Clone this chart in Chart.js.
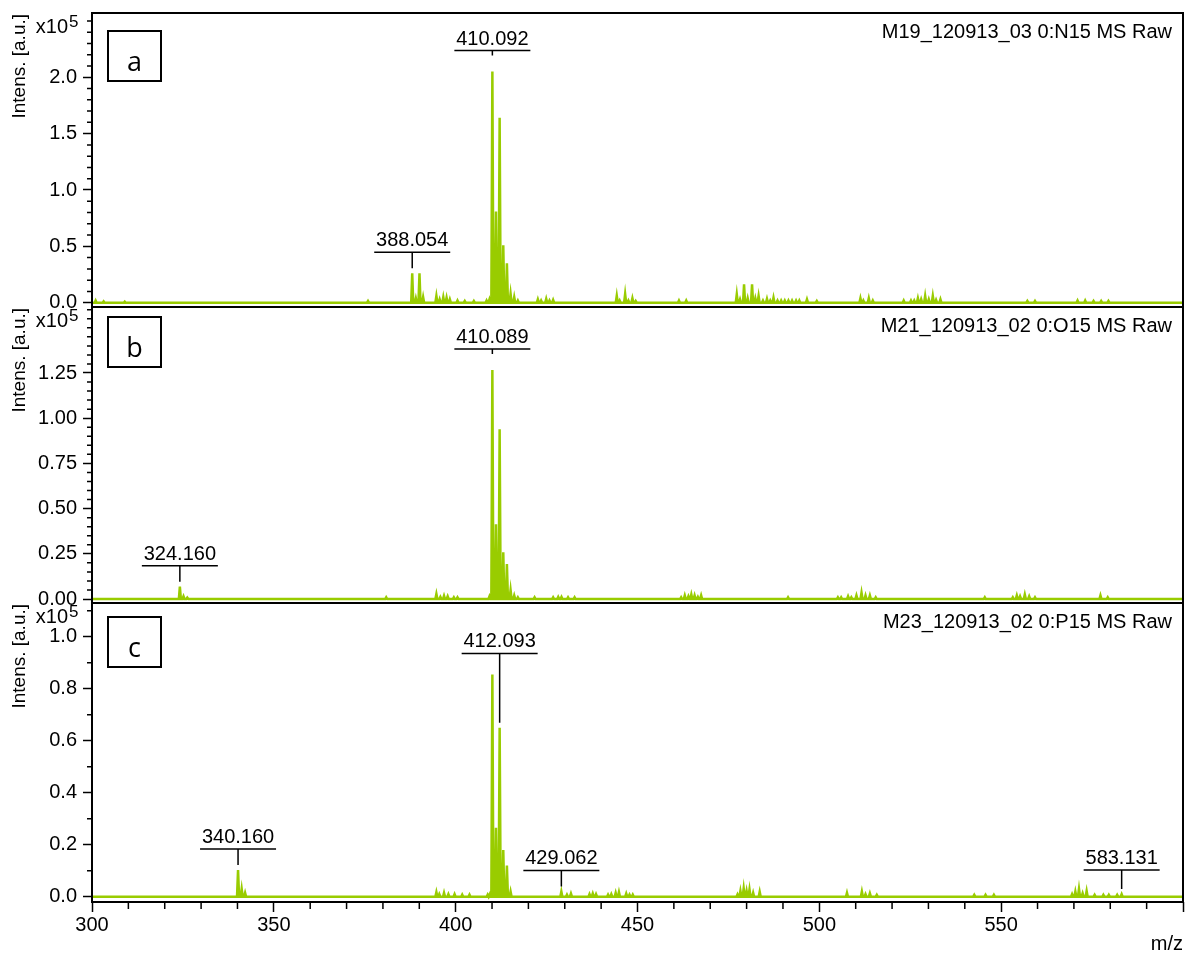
<!DOCTYPE html>
<html>
<head>
<meta charset="utf-8">
<title>MS spectra</title>
<script src="https://cdn.jsdelivr.net/npm/chart.js@4.4.1/dist/chart.umd.min.js"></script>
<style>
  html, body { margin: 0; padding: 0; background: #fff; }
  #wrap { position: relative; width: 1185px; height: 953px; }
  #wrap canvas { position: absolute; left: 0; top: 0; }
</style>
</head>
<body>
<div id="wrap">
  <canvas id="specA" width="1185" height="953"></canvas>
  <canvas id="specB" width="1185" height="953"></canvas>
  <canvas id="specC" width="1185" height="953"></canvas>
</div>
<script>
// peak lists: m/z and intensity in units of 10^5
var mzA = [301.0, 303.2, 309.0, 375.9, 388.054, 389.05, 390.05, 391.05, 394.7, 395.6, 396.6, 397.5, 398.4,
  400.5, 402.5, 405.0, 408.5, 409.3, 410.092, 411.09, 412.09, 413.09, 414.09, 415.1, 416.1, 417.1,
  422.6, 423.5, 424.9, 425.8, 426.8, 444.3, 445.1, 446.6, 447.5, 448.6, 449.5, 461.4, 463.4,
  477.3, 478.2, 479.3, 480.3, 481.5, 482.4, 483.3, 484.5, 485.6, 486.5, 487.4, 488.5, 489.5, 490.5,
  491.5, 492.5, 493.6, 494.5, 496.6, 499.3, 511.3, 512.1, 513.6, 514.7, 523.2, 525.2, 526.1, 527.1,
  528.0, 529.1, 530.1, 531.2, 532.1, 533.3, 557.2, 559.3, 571.0, 573.1, 575.4, 577.5, 579.5];
var intA = [0.02, 0.012, 0.01, 0.015, 0.262, 0.04, 0.26, 0.05, 0.06, 0.03, 0.05, 0.045, 0.03,
  0.02, 0.015, 0.015, 0.02, 0.03, 2.05, 0.81, 1.64, 0.51, 0.35, 0.08, 0.05, 0.02,
  0.03, 0.02, 0.035, 0.02, 0.025, 0.062, 0.02, 0.077, 0.02, 0.04, 0.015, 0.02, 0.02,
  0.075, 0.03, 0.163, 0.04, 0.163, 0.04, 0.06, 0.02, 0.035, 0.02, 0.045, 0.02, 0.02, 0.02,
  0.02, 0.02, 0.02, 0.02, 0.03, 0.015, 0.04, 0.02, 0.04, 0.02, 0.02, 0.02, 0.02, 0.04,
  0.03, 0.06, 0.03, 0.06, 0.025, 0.03, 0.015, 0.015, 0.02, 0.02, 0.015, 0.015, 0.015];

var mzB = [324.16, 325.16, 326.2, 380.9, 394.7, 395.8, 396.8, 397.8, 399.5, 400.5, 409.3,
  410.089, 411.09, 412.09, 413.09, 414.09, 415.1, 416.1, 417.1, 421.7, 426.8, 428.2, 429.1, 430.9, 432.7,
  462.0, 463.0, 464.0, 464.8, 465.7, 466.6, 467.5, 491.4, 505.1, 506.0, 507.9, 508.8, 510.2, 511.6,
  512.7, 513.9, 515.5, 545.5, 553.2, 554.3, 555.2, 556.5, 557.7, 559.3, 577.3, 579.3];
var intB = [0.068, 0.015, 0.008, 0.01, 0.028, 0.012, 0.018, 0.015, 0.01, 0.01, 0.015,
  1.267, 0.413, 0.939, 0.258, 0.194, 0.05, 0.02, 0.01, 0.01, 0.01, 0.012, 0.012, 0.01, 0.01,
  0.01, 0.02, 0.015, 0.025, 0.02, 0.012, 0.02, 0.01, 0.01, 0.01, 0.015, 0.01, 0.02, 0.035,
  0.02, 0.02, 0.01, 0.01, 0.01, 0.02, 0.015, 0.025, 0.015, 0.01, 0.02, 0.01];

var mzC = [340.16, 341.16, 342.1, 394.7, 395.5, 396.8, 398.0, 399.7, 401.8, 403.8, 408.8, 409.4,
  410.09, 411.09, 412.093, 413.09, 414.09, 415.1, 429.062, 430.6, 431.7, 436.8, 437.7, 438.6,
  441.9, 442.8, 444.0, 444.9, 446.9, 447.8, 448.7, 477.5, 478.3, 479.2, 480.0, 480.8, 481.8, 483.6,
  507.6, 511.7, 512.7, 513.9, 515.8, 542.6, 545.7, 548.0, 569.5, 570.4, 571.4, 572.4, 573.5,
  575.7, 578.1, 579.6, 581.9, 583.131];
var intC = [0.103, 0.03, 0.015, 0.018, 0.01, 0.015, 0.01, 0.01, 0.008, 0.008, 0.008, 0.01,
  0.855, 0.265, 0.65, 0.18, 0.12, 0.02, 0.02, 0.008, 0.012, 0.01, 0.012, 0.01,
  0.008, 0.01, 0.015, 0.018, 0.012, 0.008, 0.008, 0.009, 0.022, 0.032, 0.022, 0.028, 0.015, 0.019,
  0.015, 0.02, 0.01, 0.013, 0.007, 0.007, 0.007, 0.007, 0.01, 0.02, 0.03, 0.013, 0.022,
  0.007, 0.007, 0.007, 0.007, 0.01];

// labelled peaks
var peakLabelsA = [388.054, 410.092];
var peakLabelsB = [324.160, 410.089];
var peakLabelsC = [340.160, 412.093, 429.062, 583.131];

// axis ticks
var xTicks = [300, 350, 400, 450, 500, 550, 600];
var yTicksA = [0, 0.5, 1.0, 1.5, 2.0];
var yTicksB = [0, 0.25, 0.5, 0.75, 1.0, 1.25];
var yTicksC = [0, 0.2, 0.4, 0.6, 0.8, 1.0];

var titles = ['M19_120913_03 0:N15 MS Raw', 'M21_120913_02 0:O15 MS Raw', 'M23_120913_02 0:P15 MS Raw'];
var letters = ['a', 'b', 'c'];

var GREEN = '#99cc00';
var FONT = "'Liberation Sans', Arial, sans-serif";
var W = 1185, H = 953;

Chart.defaults.font.family = FONT;
Chart.defaults.font.size = 20;
Chart.defaults.color = '#000';

// stick spectrum: each peak is a narrow spike back down to the baseline
function profile(mz, inten) {
  var pts = [{ x: 300, y: 0 }];
  for (var i = 0; i < mz.length; i++) {
    pts.push({ x: mz[i] - 0.28, y: 0 }, { x: mz[i], y: inten[i] }, { x: mz[i] + 0.28, y: 0 });
  }
  pts.push({ x: 600, y: 0 });
  return pts;
}

function isMajor(v, ticks) {
  for (var i = 0; i < ticks.length; i++) if (Math.abs(v - ticks[i]) < 1e-6) return true;
  return false;
}

var decor = {
  id: 'decor',
  afterDraw: function (chart, args, o) {
    var ctx = chart.ctx, a = chart.chartArea, xs = chart.scales.x, ys = chart.scales.y;
    var k, v, p;
    ctx.save();
    ctx.strokeStyle = '#000';
    ctx.fillStyle = '#000';

    // minor ticks on the intensity axis
    ctx.lineWidth = 1.5;
    ctx.beginPath();
    for (k = 0; k * o.yMinor <= ys.max + 1e-9; k++) {
      v = k * o.yMinor;
      if (isMajor(v, o.yTicks)) continue;
      p = ys.getPixelForValue(v);
      ctx.moveTo(a.left - 5, p);
      ctx.lineTo(a.left, p);
    }
    if (o.xAxis) {
      for (v = 300; v <= 600; v += 10) {
        if (v % 50 === 0) continue;
        p = xs.getPixelForValue(v);
        ctx.moveTo(p, a.bottom);
        ctx.lineTo(p, a.bottom + 7);
      }
    }
    ctx.stroke();

    // plot frame
    ctx.lineWidth = 2;
    ctx.strokeRect(a.left, a.top, a.right - a.left, a.bottom - a.top);

    // x10^5 exponent
    ctx.font = '20px ' + FONT;
    ctx.textAlign = 'right';
    ctx.textBaseline = 'alphabetic';
    ctx.fillText('x10', a.left - 24, a.top + 20);
    ctx.font = '17px ' + FONT;
    ctx.textAlign = 'left';
    ctx.fillText('5', a.left - 23, a.top + 14);

    // axis title, rotated
    ctx.save();
    ctx.translate(20, a.top + 1);
    ctx.rotate(-Math.PI / 2);
    ctx.font = '19px ' + FONT;
    ctx.textAlign = 'right';
    ctx.textBaseline = 'middle';
    ctx.fillText('Intens. [a.u.]', 0, 0);
    ctx.restore();

    // panel letter box
    var by = a.top + o.boxOffset;
    ctx.lineWidth = 2;
    ctx.strokeRect(108, by, 53, 50);
    ctx.font = "27px 'Open Sans', sans-serif";
    ctx.textAlign = 'center';
    ctx.fillText(o.letter, 134.5, by + 39.5);

    // spectrum name
    ctx.font = '20px ' + FONT;
    ctx.textAlign = 'right';
    ctx.textBaseline = 'middle';
    ctx.fillText(o.title, a.right - 11, a.top + 19);

    // peak labels
    var panelMax = Math.max.apply(null, o.inten);
    ctx.textAlign = 'center';
    ctx.textBaseline = 'alphabetic';
    ctx.lineWidth = 1.5;
    o.labels.forEach(function (m) {
      var own = 0, near = 0;
      for (var i = 0; i < o.mz.length; i++) {
        if (Math.abs(o.mz[i] - m) < 0.05) own = o.inten[i];
        if (Math.abs(o.mz[i] - m) <= 10.5) near = Math.max(near, o.inten[i]);
      }
      var x = xs.getPixelForValue(m);
      var bar = Math.max(ys.getPixelForValue(near) - 21, a.top + 37);
      var end = own === panelMax ? bar + 5 : Math.max(bar + 5, ys.getPixelForValue(own) - 5);
      ctx.beginPath();
      ctx.moveTo(x - 38, bar);
      ctx.lineTo(x + 38, bar);
      ctx.moveTo(x, bar);
      ctx.lineTo(x, end);
      ctx.stroke();
      ctx.fillText(m.toFixed(3), x, bar - 6);
    });

    if (o.xAxis) {
      ctx.textAlign = 'right';
      ctx.textBaseline = 'middle';
      ctx.fillText('m/z', 1183, 944);
    }
    ctx.restore();
  }
};

function makePanel(id, p) {
  return new Chart(document.getElementById(id), {
    type: 'scatter',
    data: {
      datasets: [{
        data: profile(p.mz, p.inten),
        showLine: true,
        borderColor: GREEN,
        borderWidth: 2.5,
        pointRadius: 0,
        tension: 0,
        fill: false
      }]
    },
    options: {
      responsive: false,
      animation: false,
      events: [],
      layout: { padding: { top: p.top, bottom: p.xAxis ? 0 : H - p.bottom, left: 0, right: 2 } },
      plugins: {
        legend: { display: false },
        tooltip: { enabled: false },
        decor: {
          mz: p.mz, inten: p.inten, labels: p.labels, yTicks: p.yTicks, yMinor: p.yMinor,
          letter: p.letter, title: p.title, boxOffset: p.boxOffset, xAxis: p.xAxis
        }
      },
      scales: {
        x: {
          type: 'linear',
          display: p.xAxis,
          min: 300,
          max: 600,
          afterFit: function (s) {
            if (p.xAxis) s.height = H - p.bottom;
            s.paddingLeft = 0;
            s.paddingRight = 0;
          },
          afterBuildTicks: function (s) { s.ticks = xTicks.map(function (v) { return { value: v }; }); },
          ticks: {
            padding: 1,
            maxRotation: 0,
            autoSkip: false,
            callback: function (v) { return v === 600 ? '' : String(v); }
          },
          grid: { display: true, drawOnChartArea: false, drawTicks: true, tickLength: 10, tickColor: '#000', tickWidth: 1.5 },
          border: { display: false }
        },
        y: {
          type: 'linear',
          min: p.yMin,
          max: p.yMax,
          afterFit: function (s) {
            s.width = 92;
            s.paddingTop = 0;
            s.paddingBottom = 0;
          },
          afterBuildTicks: function (s) { s.ticks = p.yTicks.map(function (v) { return { value: v }; }); },
          ticks: {
            padding: 6,
            callback: function (v) { return Number(v).toFixed(p.dec); }
          },
          grid: { display: true, drawOnChartArea: false, drawTicks: true, tickLength: 9, tickColor: '#000', tickWidth: 1.5 },
          border: { display: false }
        }
      }
    },
    plugins: [decor]
  });
}

makePanel('specA', {
  mz: mzA, inten: intA, labels: peakLabelsA, yTicks: yTicksA, yMinor: 0.1, dec: 1,
  yMin: -0.038, yMax: 2.57, top: 13, bottom: 307, xAxis: false,
  letter: letters[0], title: titles[0], boxOffset: 18
});
makePanel('specB', {
  mz: mzB, inten: intB, labels: peakLabelsB, yTicks: yTicksB, yMinor: 0.05, dec: 2,
  yMin: -0.022, yMax: 1.615, top: 307, bottom: 603, xAxis: false,
  letter: letters[1], title: titles[1], boxOffset: 10
});
makePanel('specC', {
  mz: mzC, inten: intC, labels: peakLabelsC, yTicks: yTicksC, yMinor: 0.1, dec: 1,
  yMin: -0.0204, yMax: 1.13, top: 603, bottom: 902, xAxis: true,
  letter: letters[2], title: titles[2], boxOffset: 14
});
</script>
</body>
</html>
